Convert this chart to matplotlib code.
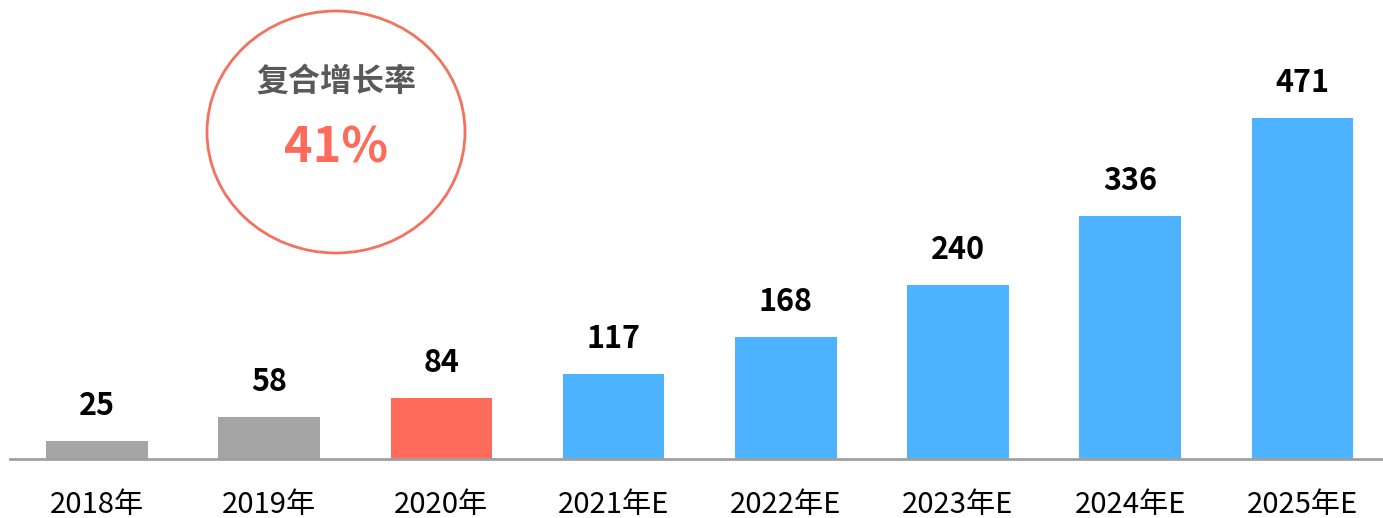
import matplotlib.pyplot as plt
from matplotlib.patches import Ellipse

plt.rcParams['font.family'] = ['Noto Sans CJK SC', 'DejaVu Sans']

years = ['2018年', '2019年', '2020年', '2021年E', '2022年E', '2023年E', '2024年E', '2025年E']
values = [25, 58, 84, 117, 168, 240, 336, 471]
colors = ['#a5a5a5', '#a5a5a5', '#ff6b5a', '#4db2ff', '#4db2ff', '#4db2ff', '#4db2ff', '#4db2ff']
cagr_label = '复合增长率'
cagr_value = '41%'

W, H = 1383, 518
fig = plt.figure(figsize=(W / 100, H / 100), dpi=100)
ax = fig.add_axes([10 / W, (H - 459) / H, (W - 10) / W, 459 / H])

x = list(range(len(values)))
ax.bar(x, values, width=0.59, color=colors, zorder=2)
for i, v in zip(x, values):
    ax.annotate(str(v), (i, v), xytext=(0, 35), textcoords='offset pixels',
                ha='center', va='center', fontsize=22, fontweight='bold', color='black')

ax.set_xlim(-0.505, 7.468)
ax.set_ylim(0, 634)
ax.set_xticks(x)
ax.set_xticklabels(years, fontsize=21, color='black')
ax.tick_params(axis='x', length=0, pad=22)
ax.set_yticks([])
for s in ['top', 'right', 'left']:
    ax.spines[s].set_visible(False)
ax.spines['bottom'].set_color('#a0a0a0')
ax.spines['bottom'].set_linewidth(2)

# CAGR circle
circle = Ellipse((336 / W, 1 - 132 / H), 258 / W, 242 / H, transform=fig.transFigure,
                 fill=False, edgecolor='#f4705f', linewidth=2)
fig.patches.append(circle)
fig.text(336 / W, 1 - 82 / H, cagr_label, ha='center', va='center', fontsize=23,
         fontweight='bold', color='#595959')
fig.text(336 / W, 1 - 148 / H, cagr_value, ha='center', va='center', fontsize=35,
         fontweight='bold', color='#ff6b5a')

fig.savefig('out.png', dpi=100)
